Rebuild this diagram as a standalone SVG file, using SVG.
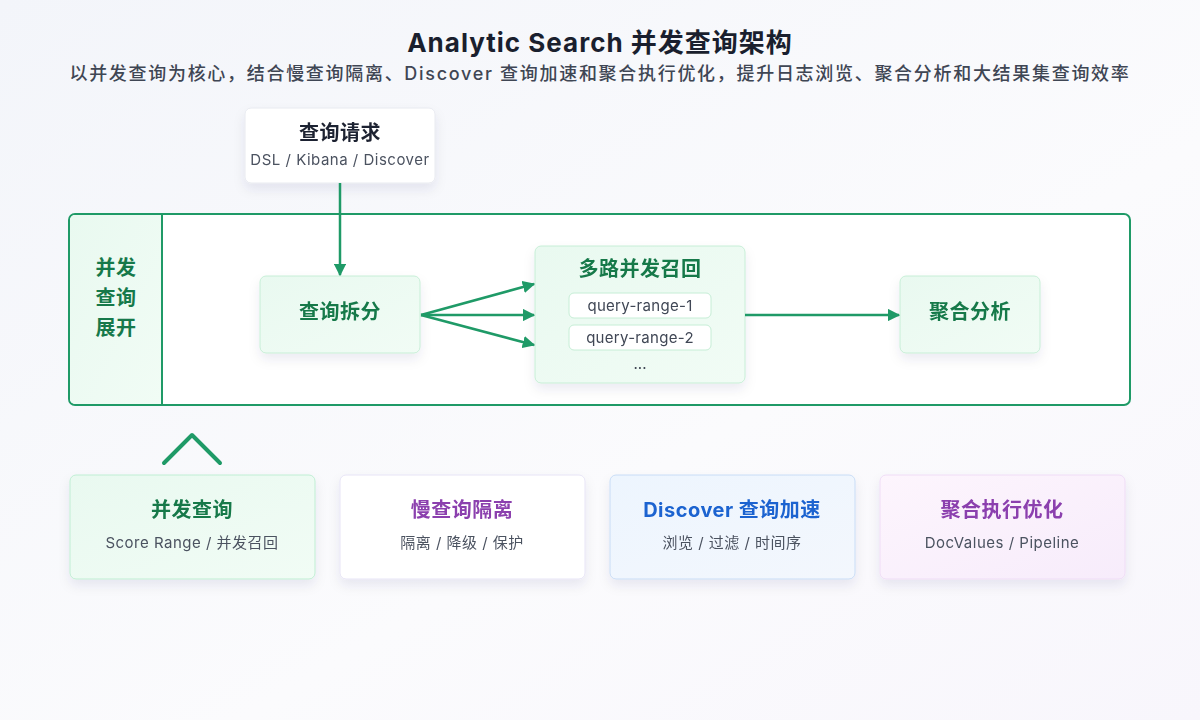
<svg xmlns="http://www.w3.org/2000/svg" width="1200" height="720" viewBox="0 0 1200 720">
<defs>
<linearGradient id="bg" x1="0" y1="0" x2="1" y2="1">
<stop offset="0" stop-color="#f3f5fa"/>
<stop offset="0.6" stop-color="#fbfbfd"/>
<stop offset="1" stop-color="#f8f6fc"/>
</linearGradient>
<linearGradient id="gn" x1="0" y1="0" x2="1" y2="1">
<stop offset="0" stop-color="#e9f9f0"/>
<stop offset="1" stop-color="#f1fcf5"/>
</linearGradient>
<linearGradient id="bl" x1="0" y1="0" x2="1" y2="1">
<stop offset="0" stop-color="#edf5fe"/>
<stop offset="1" stop-color="#f3f7fd"/>
</linearGradient>
<linearGradient id="pp" x1="0" y1="0" x2="1" y2="1">
<stop offset="0" stop-color="#fdf5fd"/>
<stop offset="1" stop-color="#f7ecfb"/>
</linearGradient>
<filter id="sh" x="-20%" y="-20%" width="140%" height="150%">
<feDropShadow dx="0" dy="6" stdDeviation="6" flood-color="#1e2a50" flood-opacity="0.08"/>
</filter>
<marker id="ah" viewBox="0 0 10 10" refX="9" refY="5" markerWidth="5" markerHeight="5" orient="auto-start-reverse" markerUnits="strokeWidth">
<path d="M0,0 L10,5 L0,10 z" fill="#1f9a67"/>
</marker>
<style>
.t{font-family:"Inter","Noto Sans CJK SC","Liberation Sans",sans-serif;text-anchor:middle}
.h{font-weight:700;font-size:20px;letter-spacing:0.5px}
.s{font-size:15px;fill:#4b5260;letter-spacing:0.5px}
.g{fill:#16794a}
.box{fill:url(#gn);stroke:#c6eed6;stroke-width:1}
.ln{stroke:#1f9a67;stroke-width:2.5;fill:none}
</style>
</defs>
<rect width="1200" height="720" fill="url(#bg)"/>
<text class="t" x="600" y="52" font-size="26" font-weight="700" fill="#1a1f2e" letter-spacing="1">Analytic Search 并发查询架构</text>
<text class="t" x="600" y="80" font-size="18" font-weight="500" fill="#3f4654" letter-spacing="1.7">以并发查询为核心，结合慢查询隔离、Discover 查询加速和聚合执行优化，提升日志浏览、聚合分析和大结果集查询效率</text>

<g id="frame">
<rect x="69" y="214" width="1061" height="191" rx="6" fill="#ffffff" stroke="#1f9a67" stroke-width="2"/>
<path d="M75,215 H162 V404 H75 a5,5 0 0 1 -5,-5 V220 a5,5 0 0 1 5,-5z" fill="url(#gn)"/>
<line x1="162" y1="215" x2="162" y2="404" stroke="#1f9a67" stroke-width="2"/>
<text class="t h g" x="116" y="275">并发</text>
<text class="t h g" x="116" y="305">查询</text>
<text class="t h g" x="116" y="335">展开</text>
</g>

<g id="request" filter="url(#sh)">
<rect x="245" y="108" width="190" height="75" rx="6" fill="#ffffff" stroke="#e8eaf0"/>
<text class="t h" x="340" y="140" fill="#1f2330">查询请求</text>
<text class="t s" x="340" y="165">DSL / Kibana / Discover</text>
</g>

<g id="split" filter="url(#sh)">
<rect class="box" x="260" y="276" width="160" height="77" rx="6"/>
<text class="t h g" x="340" y="319">查询拆分</text>
</g>

<g id="recall" filter="url(#sh)">
<rect class="box" x="535" y="246" width="210" height="137" rx="6"/>
<text class="t h g" x="640" y="276">多路并发召回</text>
<rect x="569" y="293" width="142" height="25" rx="5" fill="#ffffff" stroke="#c6eed6"/>
<text class="t" x="640" y="311" font-size="15" fill="#3f4654" letter-spacing="0.3">query-range-1</text>
<rect x="569" y="325" width="142" height="25" rx="5" fill="#ffffff" stroke="#c6eed6"/>
<text class="t" x="640" y="343" font-size="15" fill="#3f4654" letter-spacing="0.3">query-range-2</text>
<text class="t" x="640" y="369" font-size="15" fill="#3f4654">...</text>
</g>

<g id="agg" filter="url(#sh)">
<rect class="box" x="900" y="276" width="140" height="77" rx="6"/>
<text class="t h g" x="970" y="319">聚合分析</text>
</g>

<g id="connectors">
<line class="ln" x1="340" y1="183" x2="340" y2="275" marker-end="url(#ah)"/>
<line class="ln" x1="421" y1="315" x2="534" y2="284" marker-end="url(#ah)"/>
<line class="ln" x1="421" y1="315" x2="534" y2="315" marker-end="url(#ah)"/>
<line class="ln" x1="421" y1="315" x2="534" y2="345" marker-end="url(#ah)"/>
<line class="ln" x1="745" y1="315" x2="899" y2="315" marker-end="url(#ah)"/>
<polyline points="164,463 192,435 220,463" fill="none" stroke="#1f9a67" stroke-width="4" stroke-linecap="round" stroke-linejoin="round"/>
</g>

<g id="card1" filter="url(#sh)">
<rect x="70" y="475" width="245" height="104" rx="6" fill="url(#gn)" stroke="#bfeed3"/>
<text class="t h g" x="192" y="517">并发查询</text>
<text class="t s" x="192" y="548">Score Range / 并发召回</text>
</g>
<g id="card2" filter="url(#sh)">
<rect x="340" y="475" width="245" height="104" rx="6" fill="#ffffff" stroke="#e7e4f6"/>
<text class="t h" x="462" y="517" fill="#8b3fae">慢查询隔离</text>
<text class="t s" x="462" y="548">隔离 / 降级 / 保护</text>
</g>
<g id="card3" filter="url(#sh)">
<rect x="610" y="475" width="245" height="104" rx="6" fill="url(#bl)" stroke="#c8dcf6"/>
<text class="t h" x="732" y="517" fill="#1b63d0">Discover 查询加速</text>
<text class="t s" x="732" y="548">浏览 / 过滤 / 时间序</text>
</g>
<g id="card4" filter="url(#sh)">
<rect x="880" y="475" width="245" height="104" rx="6" fill="url(#pp)" stroke="#efdcf6"/>
<text class="t h" x="1002" y="517" fill="#8b3fae">聚合执行优化</text>
<text class="t s" x="1002" y="548">DocValues / Pipeline</text>
</g>
</svg>
